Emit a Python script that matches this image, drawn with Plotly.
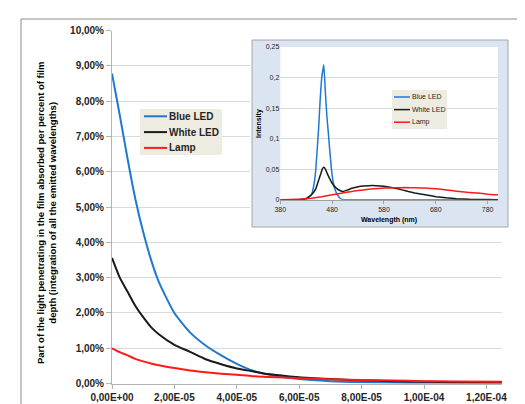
import plotly.graph_objects as go

W, H = 525, 404

# ---------------- main chart data ----------------
depth_m = [0, 2.5e-6, 5e-6, 7.5e-6, 1e-5, 1.25e-5, 1.5e-5, 2e-5, 2.5e-5, 3e-5, 3.5e-5,
           4e-5, 4.5e-5, 5e-5, 6e-5, 7e-5, 8e-5, 9e-5, 1e-4, 1.1e-4, 1.25e-4]
blue_led_pct = [8.78, 7.6, 6.36, 5.22, 4.29, 3.51, 2.88, 2.0, 1.45, 1.08, 0.80,
                0.56, 0.37, 0.26, 0.13, 0.07, 0.04, 0.025, 0.015, 0.01, 0.008]
white_led_pct = [3.56, 3.0, 2.6, 2.2, 1.88, 1.6, 1.4, 1.1, 0.9, 0.69, 0.55,
                 0.43, 0.35, 0.27, 0.18, 0.13, 0.09, 0.07, 0.05, 0.04, 0.03]
lamp_pct = [1.0, 0.89, 0.8, 0.7, 0.63, 0.57, 0.52, 0.44, 0.37, 0.32, 0.28,
            0.25, 0.21, 0.19, 0.15, 0.12, 0.10, 0.085, 0.07, 0.06, 0.05]

x_tickvals = [0, 2e-5, 4e-5, 6e-5, 8e-5, 1e-4, 1.2e-4]
x_ticktext = ["0,00E+00", "2,00E-05", "4,00E-05", "6,00E-05", "8,00E-05", "1,00E-04", "1,20E-04"]
y_tickvals = [0, 1, 2, 3, 4, 5, 6, 7, 8, 9, 10]
y_ticktext = ["0,00%", "1,00%", "2,00%", "3,00%", "4,00%", "5,00%", "6,00%", "7,00%", "8,00%", "9,00%", "10,00%"]

# ---------------- inset spectra data ----------------
blue_wl = [380, 400, 420, 430, 440, 445, 448, 451, 454, 457, 460, 464, 467, 470, 472,
           476, 480, 485, 491, 496, 501, 520, 600, 700, 800]
blue_int = [0, 0, 0, 0.001, 0.008, 0.025, 0.045, 0.08, 0.118, 0.165, 0.200, 0.221, 0.175,
            0.135, 0.116, 0.075, 0.04, 0.018, 0.007, 0.002, 0, 0, 0, 0, 0]
white_wl = [380, 400, 420, 430, 440, 445, 449, 454, 458, 461, 464, 467, 470, 475, 480, 488,
            495, 501, 510, 520, 535, 550, 565, 580, 600, 620, 640, 660, 680, 700, 720, 750, 780, 800]
white_int = [0, 0, 0.0005, 0.002, 0.008, 0.013, 0.019, 0.032, 0.042, 0.05, 0.053, 0.05, 0.044,
             0.035, 0.027, 0.019, 0.015, 0.0135, 0.016, 0.019, 0.022, 0.023, 0.023, 0.022,
             0.019, 0.015, 0.011, 0.008, 0.005, 0.003, 0.0015, 0.0005, 0.0002, 0]
lamp_wl = [380, 400, 420, 440, 460, 480, 500, 520, 540, 560, 580, 600, 620, 640, 660, 680,
           700, 720, 740, 760, 780, 800]
lamp_int = [0, 0.0003, 0.001, 0.0025, 0.005, 0.008, 0.011, 0.014, 0.016, 0.018, 0.019, 0.0195,
            0.0198, 0.0195, 0.019, 0.018, 0.016, 0.014, 0.012, 0.011, 0.009, 0.008]

inset_x_ticks = [380, 480, 580, 680, 780]
inset_y_ticks = [0, 0.05, 0.1, 0.15, 0.2, 0.25]
inset_y_text = ["0", "0,05", "0,1", "0,15", "0,2", "0,25"]

series_names = ["Blue LED", "White LED", "Lamp"]
colors = ["#1f78d1", "#1a1a1a", "#ff1a1a"]

FONT = "Liberation Sans"
TXT = "#262626"


def px(x):
    return x / W


def py(y):
    return 1 - y / H


fig = go.Figure()

for name, vals, c in zip(series_names, [blue_led_pct, white_led_pct, lamp_pct], colors):
    fig.add_trace(go.Scatter(x=depth_m, y=vals, mode="lines", name=name,
                             line=dict(color=c, width=2, shape="spline", smoothing=0.6),
                             xaxis="x", yaxis="y", showlegend=False))

# frame subplot for the inset (empty)
fig.add_trace(go.Scatter(x=[], y=[], xaxis="x2", yaxis="y2", showlegend=False, hoverinfo="skip"))

for name, wl, vals, c in zip(series_names, [blue_wl, white_wl, lamp_wl],
                             [blue_int, white_int, lamp_int], colors):
    fig.add_trace(go.Scatter(x=wl, y=vals, mode="lines", name=name,
                             line=dict(color=c, width=1.5, shape="spline", smoothing=0.3),
                             xaxis="x3", yaxis="y3", showlegend=False))

axis_line = "#b3b3b3"
grid = "#d9d9d9"

fig.update_layout(
    width=W, height=H,
    margin=dict(l=0, r=0, t=0, b=0),
    paper_bgcolor="rgb(255,255,255)",
    plot_bgcolor="#ffffff",
    font=dict(family=FONT, color=TXT),
    showlegend=False,
    xaxis=dict(domain=[px(104), px(494)], range=[0, 1.25e-4], tickvals=x_tickvals,
               ticktext=x_ticktext, showgrid=False, zeroline=False, showline=True,
               linecolor=axis_line, ticks="outside", ticklen=4, tickcolor=axis_line,
               tickfont=dict(size=10, family=FONT, color=TXT, weight="bold"),
               anchor="y", automargin=False),
    yaxis=dict(domain=[py(375.6), py(22.5)], range=[0, 10], tickvals=y_tickvals,
               ticktext=y_ticktext, showgrid=True, gridcolor=grid, gridwidth=1,
               zeroline=False, showline=True, linecolor=axis_line, ticks="outside",
               ticklen=5, tickcolor=axis_line,
               tickfont=dict(size=10, family=FONT, color=TXT, weight="bold"),
               anchor="x", automargin=False),
    xaxis2=dict(domain=[px(242), px(502)], range=[0, 1], visible=False, anchor="y2",
                fixedrange=True),
    yaxis2=dict(domain=[py(221), py(30)], range=[0, 1], visible=False, anchor="x2",
                fixedrange=True),
    xaxis3=dict(domain=[px(272.3), px(490)], range=[380, 800], tickvals=inset_x_ticks,
                showgrid=False, zeroline=False, showline=True, linecolor="#a0a0a0",
                ticks="outside", ticklen=3, tickcolor="#a0a0a0",
                tickfont=dict(size=7, family=FONT, color=TXT),
                anchor="y3", automargin=False),
    yaxis3=dict(domain=[py(191.7), py(39)], range=[0, 0.25], tickvals=inset_y_ticks,
                ticktext=inset_y_text, showgrid=True, gridcolor=grid, zeroline=False,
                showline=False, ticks="", tickfont=dict(size=7, family=FONT, color=TXT),
                anchor="x3", automargin=False),
)

# outer chart border
fig.add_shape(type="rect", xref="paper", yref="paper", x0=px(13), x1=1.2, y0=-0.2, y1=py(11),
              line=dict(color="#8c8c8c", width=1), fillcolor="rgba(0,0,0,0)", layer="below")
# inset frame (light blue)
fig.add_shape(type="rect", xref="x2", yref="y2", x0=2 / 260, x1=258 / 260, y0=2 / 191, y1=189 / 191,
              line=dict(color="#a6a6a6", width=1), fillcolor="#dbe5f1", layer="below")


def add_legend(box, row0, row_gap, line_x, text_x, font_size, lw, bold):
    x0, y0, x1, y1 = box
    fig.add_shape(type="rect", xref="paper", yref="paper", x0=px(x0), x1=px(x1),
                  y0=py(y1), y1=py(y0), line=dict(width=0), fillcolor="#eeece1", layer="above")
    for i, (name, c) in enumerate(zip(series_names, colors)):
        yy = row0 + i * row_gap
        fig.add_shape(type="line", xref="paper", yref="paper", x0=px(line_x[0]), x1=px(line_x[1]),
                      y0=py(yy), y1=py(yy), line=dict(color=c, width=lw), layer="above")
        fig.add_annotation(x=px(text_x), y=py(yy), xref="paper", yref="paper", showarrow=False,
                           text=name, xanchor="left", yanchor="middle", borderpad=0,
                           font=dict(size=font_size, family=FONT, color=TXT,
                                     weight="bold" if bold else "normal"))


# main legend
add_legend((132, 101, 214, 147), 108.3, 15.8, (136, 159), 160, 10, 2, True)
# inset legend
add_legend((384, 82, 439, 121), 89, 12.6, (386, 402), 403, 7, 1.5, False)

# titles
fig.add_annotation(x=px(38), y=py(205), xref="paper", yref="paper", showarrow=False,
                   text="Part of the light penetrating in the film absorbed per percent of film<br>"
                        "depth (integration of all the emitted wavelengths)",
                   textangle=-90, font=dict(size=9.5, family=FONT, color="#000000", weight="bold"),
                   xanchor="center", yanchor="middle")
fig.add_annotation(x=px(299), y=py(395), xref="paper", yref="paper", showarrow=False,
                   text="depth (m)", font=dict(size=10, family=FONT, color="#000000", weight="bold"),
                   xanchor="center", yanchor="top")
fig.add_annotation(x=px(381), y=py(212), xref="paper", yref="paper", showarrow=False,
                   text="Wavelength (nm)", font=dict(size=7, family=FONT, color="#000000", weight="bold"),
                   xanchor="center", yanchor="middle")
fig.add_annotation(x=px(251), y=py(116), xref="paper", yref="paper", showarrow=False,
                   text="Intensity", textangle=-90,
                   font=dict(size=7, family=FONT, color="#000000", weight="bold"),
                   xanchor="center", yanchor="middle")

fig.write_html("out.html")
